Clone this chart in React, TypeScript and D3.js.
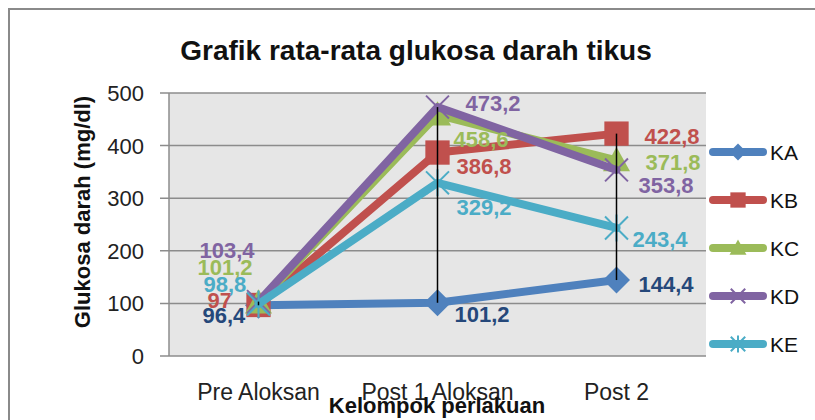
import { useEffect, useRef } from "react";
import * as d3 from "d3";

// data
const categories = ["Pre Aloksan", "Post 1 Aloksan", "Post 2"];
const seriesNames = ["KA", "KB", "KC", "KD", "KE"];
const valuesKA = [96.4, 101.2, 144.4];
const valuesKB = [97, 386.8, 422.8];
const valuesKC = [101.2, 458.6, 371.8];
const valuesKD = [103.4, 473.2, 353.8];
const valuesKE = [98.8, 329.2, 243.4];
const yTicks = [0, 100, 200, 300, 400, 500];

// styles
const lineColors = ["#4F81BD", "#C0504D", "#9BBB59", "#8064A2", "#4BACC6"];
const labelColors = ["#25487A", "#C0504D", "#9BBB59", "#8064A2", "#4BACC6"];
const markerTypes = ["diamond", "square", "triangle", "x", "star"];
// label offsets (dx, dy) from each point, per series, per category
const labelOffsets = [
  [[-56, 18], [17, 19], [22, 12]],
  [[-51, 3], [19, 21], [28, 10]],
  [[-61, -28], [16, 32], [29, 10]],
  [[-59, -44], [28, 4], [22, 23]],
  [[-55, -12], [19, 32], [16, 19]],
];

const FONT = "'Liberation Sans', Arial, sans-serif";

const App = () => {
  const svgRef = useRef<SVGSVGElement>(null);

  useEffect(() => {
    if (!svgRef.current) return;
    const width = 815;
    const height = 420;
    const svg = d3.select(svgRef.current);
    svg.selectAll("*").remove();
    svg.attr("width", width).attr("height", height).style("font-family", FONT);

    const all = [valuesKA, valuesKB, valuesKC, valuesKD, valuesKE];

    const x = d3.scaleBand<string>().domain(categories).range([169, 706]);
    const y = d3.scaleLinear().domain([0, 500]).range([356, 93]);
    const cx = (c: string) => (x(c) || 0) + x.bandwidth() / 2;

    // outer chart border
    svg
      .append("rect")
      .attr("x", 9)
      .attr("y", 9)
      .attr("width", 900)
      .attr("height", 500)
      .attr("fill", "white")
      .attr("stroke", "#8a8a8a")
      .attr("stroke-width", 2);

    // title
    svg
      .append("text")
      .attr("x", 416)
      .attr("y", 60)
      .attr("text-anchor", "middle")
      .style("font-size", "28px")
      .style("font-weight", "bold")
      .attr("fill", "#111")
      .text("Grafik rata-rata glukosa darah tikus");

    // plot background
    svg
      .append("rect")
      .attr("x", 169)
      .attr("y", y(500))
      .attr("width", 706 - 169)
      .attr("height", y(0) - y(500))
      .attr("fill", "#E6E6E6");

    // grid + y ticks
    const grid = svg.append("g");
    grid
      .selectAll("line")
      .data(yTicks)
      .join("line")
      .attr("x1", 160)
      .attr("x2", 706)
      .attr("y1", (d) => y(d))
      .attr("y2", (d) => y(d))
      .attr("stroke", "#8c8c8c")
      .attr("stroke-width", 1.5);
    grid
      .selectAll("text")
      .data(yTicks)
      .join("text")
      .attr("x", 144)
      .attr("y", (d) => y(d) + 8)
      .attr("text-anchor", "end")
      .style("font-size", "22px")
      .attr("fill", "#222")
      .text((d) => d);

    // y axis line
    svg
      .append("line")
      .attr("x1", 169)
      .attr("x2", 169)
      .attr("y1", y(500))
      .attr("y2", y(0))
      .attr("stroke", "#8c8c8c")
      .attr("stroke-width", 1.5);

    // category labels
    svg
      .append("g")
      .selectAll("text")
      .data(categories)
      .join("text")
      .attr("x", (d) => cx(d))
      .attr("y", 400)
      .attr("text-anchor", "middle")
      .style("font-size", "23px")
      .attr("fill", "#222")
      .text((d) => d);

    // axis titles
    svg
      .append("text")
      .attr("x", 437)
      .attr("y", 413)
      .attr("text-anchor", "middle")
      .style("font-size", "22px")
      .style("font-weight", "bold")
      .attr("fill", "#111")
      .text("Kelompok perlakuan");
    svg
      .append("text")
      .attr("transform", `translate(90,212) rotate(-90)`)
      .attr("text-anchor", "middle")
      .style("font-size", "22px")
      .style("font-weight", "bold")
      .attr("fill", "#111")
      .text("Glukosa darah (mg/dl)");

    const drawMarker = (
      g: d3.Selection<SVGGElement, unknown, null, undefined>,
      type: string,
      px: number,
      py: number,
      s: number,
      color: string
    ) => {
      const h = s / 2;
      if (type === "diamond") {
        g.append("path")
          .attr("d", `M${px},${py - h}L${px + h},${py}L${px},${py + h}L${px - h},${py}Z`)
          .attr("fill", color);
      } else if (type === "square") {
        g.append("rect")
          .attr("x", px - h * 0.9)
          .attr("y", py - h * 0.9)
          .attr("width", s * 0.9)
          .attr("height", s * 0.9)
          .attr("fill", color);
      } else if (type === "triangle") {
        g.append("path")
          .attr("d", `M${px},${py - h}L${px + h},${py + h * 0.8}L${px - h},${py + h * 0.8}Z`)
          .attr("fill", color);
      } else {
        const k = h * 0.85;
        const p = `M${px - k},${py - k}L${px + k},${py + k}M${px - k},${py + k}L${px + k},${py - k}` +
          (type === "star" ? `M${px},${py - h}L${px},${py + h}` : "");
        g.append("path")
          .attr("d", p)
          .attr("fill", "none")
          .attr("stroke", color)
          .attr("stroke-width", 2);
      }
    };

    const line = d3
      .line<number>()
      .x((_, i) => cx(categories[i]))
      .y((d) => y(d));

    // series
    all.forEach((vals, si) => {
      const g = svg.append("g");
      g.append("path")
        .datum(vals)
        .attr("d", line)
        .attr("fill", "none")
        .attr("stroke", lineColors[si])
        .attr("stroke-width", 8)
        .attr("stroke-linejoin", "round")
        .attr("stroke-linecap", "round");
      vals.forEach((v, i) => {
        drawMarker(g, markerTypes[si], cx(categories[i]), y(v), 27, lineColors[si]);
      });
    });

    // high-low lines
    svg
      .append("g")
      .selectAll("line")
      .data(categories)
      .join("line")
      .attr("x1", (d) => cx(d))
      .attr("x2", (d) => cx(d))
      .attr("y1", (_, i) => y(d3.max(all, (s) => s[i]) || 0))
      .attr("y2", (_, i) => y(d3.min(all, (s) => s[i]) || 0))
      .attr("stroke", "#000")
      .attr("stroke-width", 1.5);

    // data labels
    const fmt = (v: number) => String(v).replace(".", ",");
    all.forEach((vals, si) => {
      svg
        .append("g")
        .selectAll("text")
        .data(vals)
        .join("text")
        .attr("x", (d, i) => cx(categories[i]) + labelOffsets[si][i][0])
        .attr("y", (d, i) => y(d) + labelOffsets[si][i][1])
        .style("font-size", "22px")
        .style("font-weight", "bold")
        .attr("fill", labelColors[si])
        .text((d) => fmt(d));
    });

    // legend
    const legend = svg
      .append("g")
      .selectAll("g")
      .data(seriesNames)
      .join("g")
      .attr("transform", (_, i) => `translate(0,${152 + i * 48})`);
    legend.each(function (name, i) {
      const g = d3.select(this as SVGGElement);
      g.append("line")
        .attr("x1", 713)
        .attr("x2", 763)
        .attr("stroke", lineColors[i])
        .attr("stroke-width", 8)
        .attr("stroke-linecap", "round");
      drawMarker(g as any, markerTypes[i], 738, 0, 17, lineColors[i]);
      g.append("text")
        .attr("x", 770)
        .attr("y", 8)
        .style("font-size", "21px")
        .attr("fill", "#111")
        .text(name);
    });
  }, []);

  return (
    <svg ref={svgRef} style={{ position: "absolute", left: 0, top: 0 }}></svg>
  );
};

export default App;
